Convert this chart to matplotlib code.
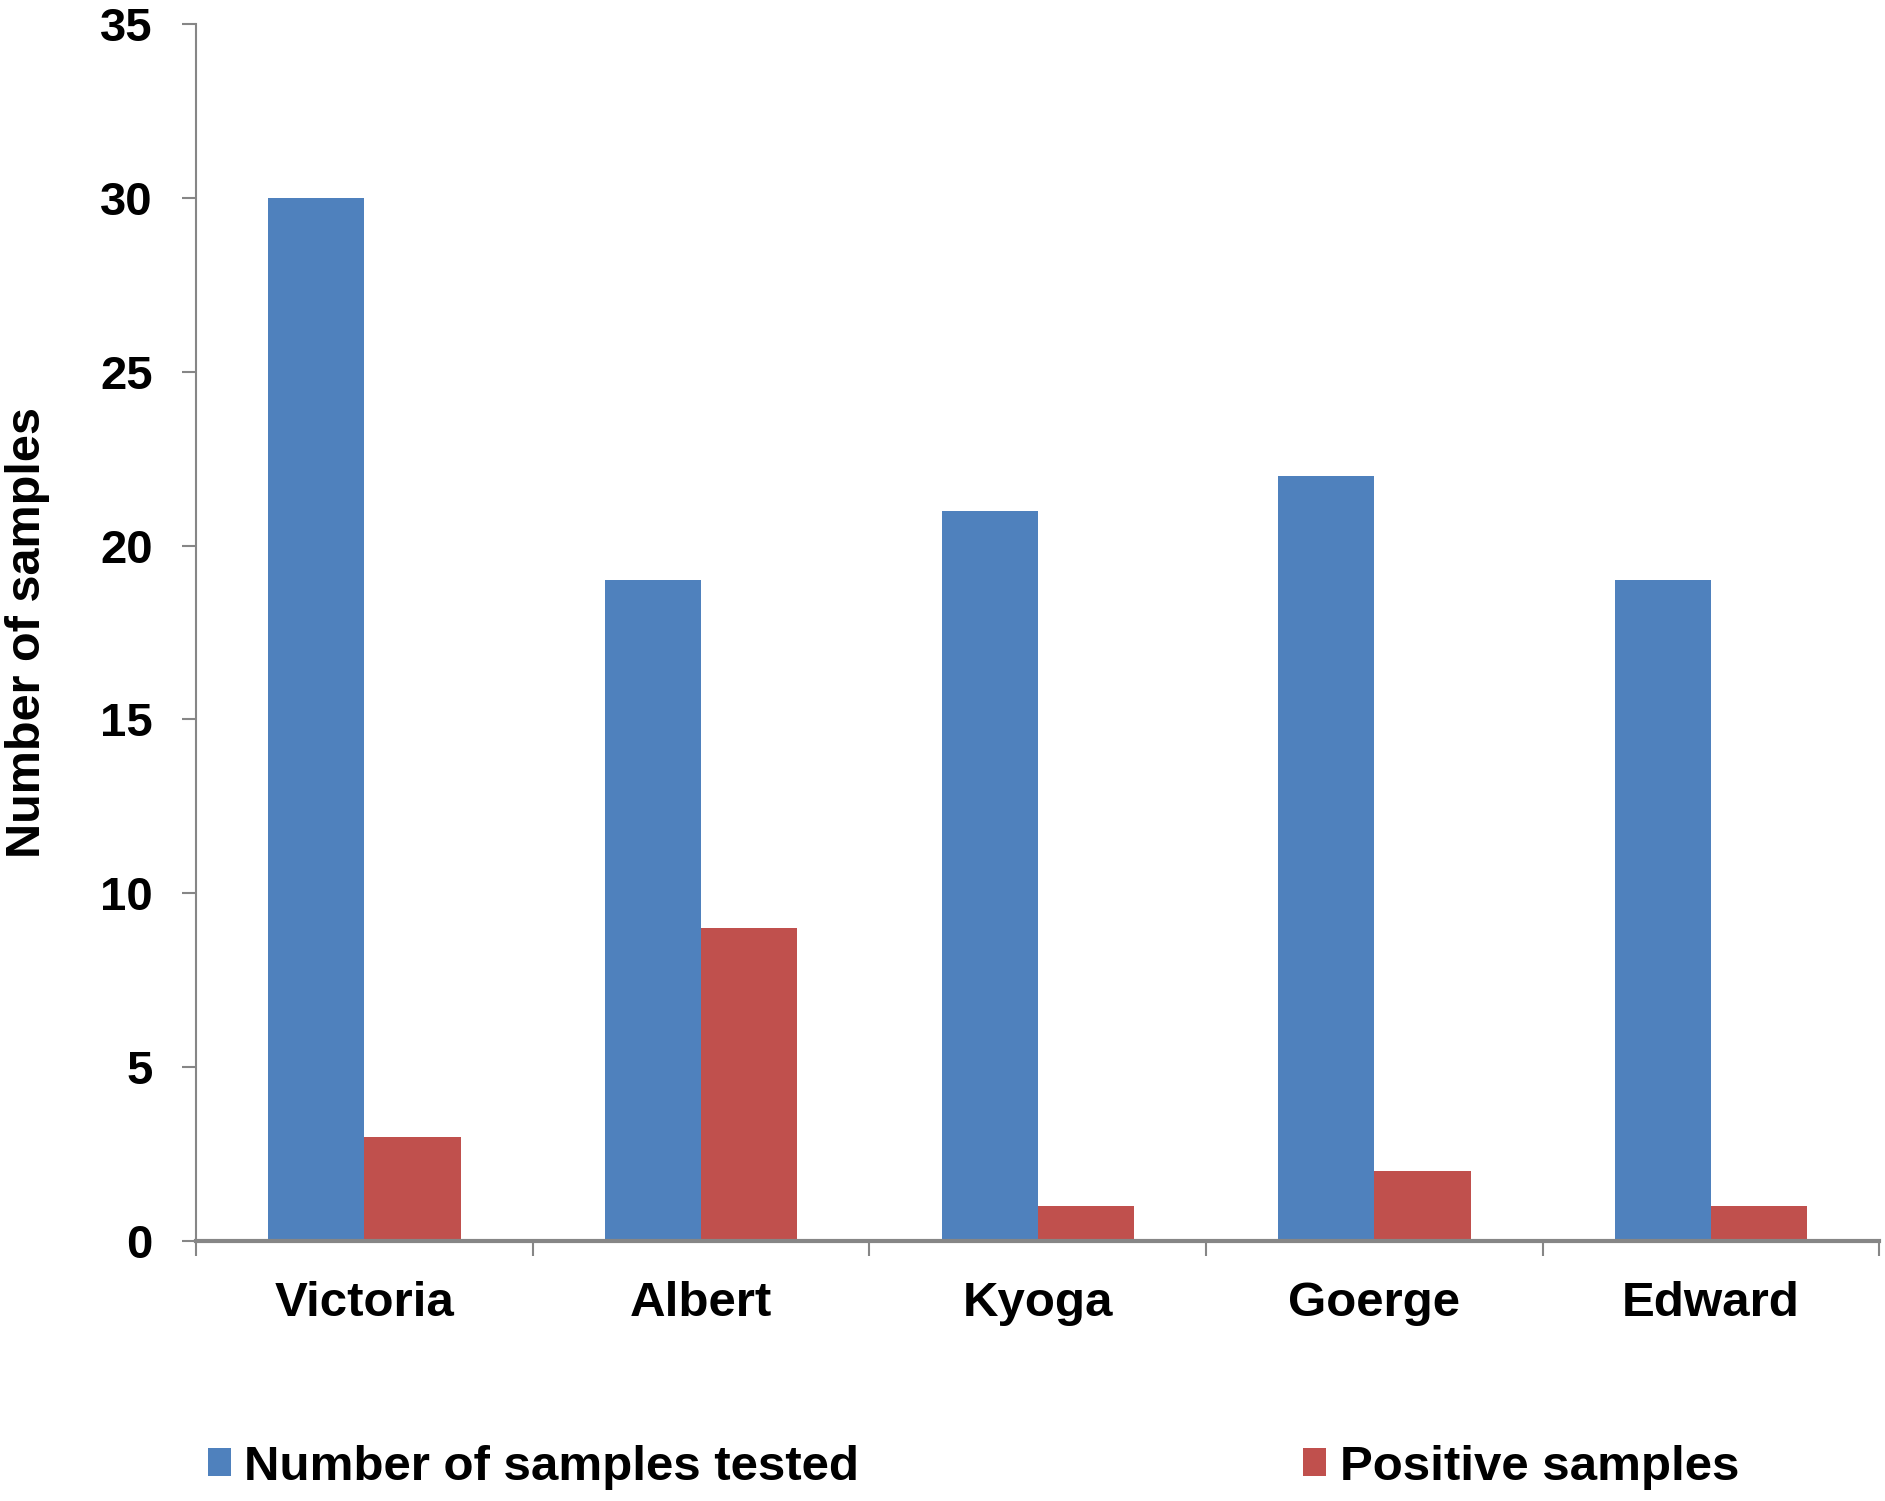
import matplotlib.pyplot as plt
import numpy as np

lakes = ['Victoria', 'Albert', 'Kyoga', 'Goerge', 'Edward']
tested = [30, 19, 21, 22, 19]
positive = [3, 9, 1, 2, 1]
series_names = ['Number of samples tested', 'Positive samples']
yticks = [0, 5, 10, 15, 20, 25, 30, 35]

plt.rcParams['font.family'] = ['Liberation Sans', 'DejaVu Sans']
plt.rcParams['font.weight'] = 'bold'

fig = plt.figure(figsize=(18.85, 15.01), dpi=100)
ax = fig.add_axes([0.104, 0.1732, 0.893, 0.8108])

x = np.arange(len(lakes))
w = 0.2857
ax.bar(x - w / 2, tested, w, color='#4F81BD', label=series_names[0])
ax.bar(x + w / 2, positive, w, color='#C0504D', label=series_names[1])

ax.set_xlim(-0.5, len(lakes) - 0.5)
ax.set_ylim(0, 35)

# axis look
for s in ['top', 'right']:
    ax.spines[s].set_visible(False)
ax.spines['left'].set_color('#868686')
ax.spines['left'].set_linewidth(1.5)
ax.spines['bottom'].set_color('#868686')
ax.spines['bottom'].set_linewidth(3)

ax.set_yticks(yticks)
ax.set_yticklabels([str(v) for v in yticks], fontsize=34, fontweight='bold')
ax.tick_params(axis='y', direction='out', length=10, width=1.5,
               color='#868686', pad=21)

# category boundaries as major ticks, names on minor ticks
ax.set_xticks(np.arange(len(lakes) + 1) - 0.5)
ax.set_xticklabels([])
ax.tick_params(axis='x', which='major', direction='out', length=11,
               width=1.5, color='#868686')
ax.set_xticks(x, minor=True)
ax.set_xticklabels(lakes, minor=True, fontsize=35.5, fontweight='bold')
ax.tick_params(axis='x', which='minor', length=0, pad=29)

ax.set_ylabel('Number of samples', fontsize=35, fontweight='bold')
ax.yaxis.set_label_coords(-0.087, 0.5)

fig.legend(loc='center left', bbox_to_anchor=(208 / 1885, 1 - 1467 / 1501),
           ncol=2, frameon=False, prop={'weight': 'bold', 'size': 35.5},
           handlelength=0.47, handleheight=0.47, handletextpad=0.27,
           columnspacing=9.0, borderpad=0, borderaxespad=0)

fig.savefig('out.png', dpi=100)
